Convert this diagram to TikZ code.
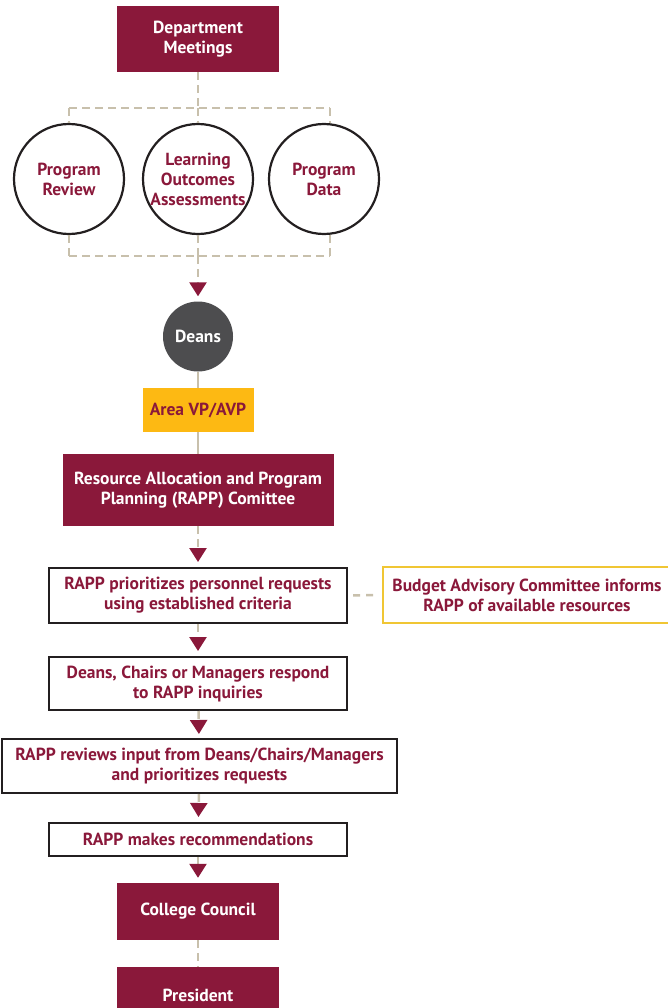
\documentclass[tikz,border=0pt]{standalone}
\usepackage{fontspec}
\setmainfont{PT Sans}
\usetikzlibrary{arrows.meta,positioning}

\definecolor{maroon}{RGB}{138,24,58}
\definecolor{gold}{RGB}{253,185,19}
\definecolor{paleGold}{RGB}{240,198,52}
\definecolor{tan}{RGB}{200,192,172}
\definecolor{slate}{RGB}{77,77,79}
\definecolor{edge}{RGB}{35,31,32}

\tikzset{
  txt/.style={font=\fontsize{17.5}{20}\selectfont\bfseries, align=center, inner sep=0pt},
  redbox/.style={txt, fill=maroon, text=white, minimum width=162pt, minimum height=56pt},
  stepbox/.style={txt, draw=edge, line width=2pt, text=maroon, minimum width=298pt},
  inputcircle/.style={txt, circle, draw=edge, line width=2.2pt, text=maroon, minimum size=110pt},
  link/.style={tan, line width=2.5pt, dash pattern=on 8pt off 5pt},
  solidlink/.style={tan, line width=2pt},
  flow/.style={link, -{Triangle[width=17pt,length=14pt,color=maroon,fill=maroon]}, shorten >=5pt},
}

\begin{document}
\begin{tikzpicture}[x=1pt,y=-1pt]
	\useasboundingbox (0,0) rectangle (667,1008);

	% Place nodes
	\node [redbox, minimum height=66pt] (dept) at (198,39) {Department\\Meetings};
	\node [inputcircle] (review) at (69,179) {Program\\Review};
	\node [inputcircle] (outcomes) at (198,179) {Learning\\Outcomes\\Assessments};
	\node [inputcircle] (data) at (324,179) {Program\\Data};
	\node [txt, circle, fill=slate, text=white, minimum size=70pt] (deans) at (198,336.5) {Deans};
	\node [txt, fill=gold, text=maroon, minimum width=111pt, minimum height=44pt] (area) at (198,410) {Area VP/AVP};
	\node [redbox, minimum width=271pt, minimum height=72pt] (rapp) at (198,490) {Resource Allocation and Program\\Planning (RAPP) Comittee};
	\node [stepbox, minimum height=55pt] (prioritize) at (198,595.5) {RAPP prioritizes personnel requests\\using established criteria};
	\node [txt, draw=paleGold, line width=2pt, text=maroon, minimum width=288pt, minimum height=56pt] (budget) at (527,595) {Budget Advisory Committee informs\\RAPP of available resources};
	\node [stepbox, minimum height=53pt] (respond) at (198,683.5) {Deans, Chairs or Managers respond\\to RAPP inquiries};
	\node [stepbox, minimum width=395pt, minimum height=54pt] (reviewin) at (199.5,766) {RAPP reviews input from Deans/Chairs/Managers\\and prioritizes requests};
	\node [stepbox, minimum height=33pt] (recommend) at (198,839.5) {RAPP makes recommendations};
	\node [redbox, minimum height=57pt] (council) at (198,911.5) {College Council};
	\node [redbox] (president) at (198,995) {President};

	% Bracket round the three inputs
	\coordinate (topleft) at (69,108);
	\coordinate (topmid) at (198,108);
	\coordinate (topright) at (330,108);
	\coordinate (botleft) at (69,256);
	\coordinate (botmid) at (198,256);
	\coordinate (botright) at (330,256);

	% Draw edges
	\draw [link] (dept) -- (topmid);
	\draw [link] (topleft) -- (topright);
	\draw [link] (topleft) -- (review);
	\draw [link] (topmid) -- (outcomes);
	\draw [link] (topright) -- (topright |- data.north);
	\draw [link] (review) -- (botleft);
	\draw [link] (outcomes) -- (botmid);
	\draw [link] (topright |- data.south) -- (botright);
	\draw [link] (botleft) -- (botright);
	\draw [flow] (botmid) -- (deans);
	\draw [solidlink] (deans) -- (area);
	\draw [solidlink] (area) -- (rapp);
	\draw [flow] (rapp) -- (prioritize);
	\draw [link, dash pattern=on 7pt off 6pt, shorten <=5pt, shorten >=4pt] (prioritize) -- (budget);
	\draw [flow] (prioritize) -- (respond);
	\draw [flow, shorten >=4pt] (respond) -- (reviewin);
	\draw [flow] (reviewin) -- (recommend);
	\draw [flow] (recommend) -- (council);
	\draw [link] (council) -- (president);
\end{tikzpicture}
\end{document}
